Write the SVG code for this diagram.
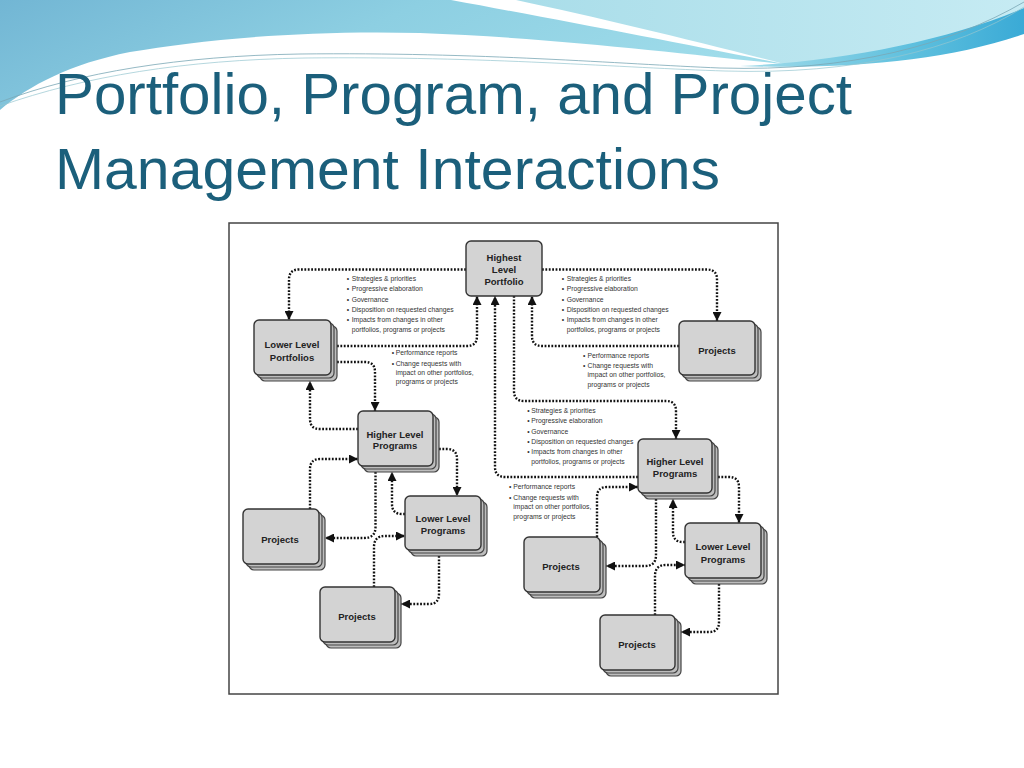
<svg xmlns="http://www.w3.org/2000/svg" width="1024" height="768" viewBox="0 0 1024 768">
<defs>
<linearGradient id="gBlue" x1="0" y1="0" x2="1" y2="0.3">
<stop offset="0" stop-color="#72b6d4"/>
<stop offset="0.5" stop-color="#8dcfe2"/>
<stop offset="1" stop-color="#9fdcea"/>
</linearGradient>
<linearGradient id="gPale" x1="0" y1="0" x2="1" y2="0">
<stop offset="0" stop-color="#a9dde9"/>
<stop offset="1" stop-color="#c6ebf3"/>
</linearGradient>
<linearGradient id="gSwoosh" x1="0" y1="0" x2="1" y2="0">
<stop offset="0" stop-color="#a3dcea"/>
<stop offset="0.6" stop-color="#5fc0de"/>
<stop offset="1" stop-color="#3aaad6"/>
</linearGradient>
<marker id="ah" viewBox="0 0 10 10" refX="10" refY="5" markerWidth="9" markerHeight="9" markerUnits="userSpaceOnUse" orient="auto">
<path d="M0,0 L10,5 L0,10 z" fill="#111"/>
</marker>
<style>
.title{font-family:"Liberation Sans",Arial,sans-serif;font-size:58px;fill:#1b5f7b}
.box{fill:#d3d3d3;stroke:#333;stroke-width:1.4}
.back{fill:#bdbdbd;stroke:#444;stroke-width:1.2}
.lbl{font-family:"Liberation Sans",Arial,sans-serif;font-size:9.5px;font-weight:bold;fill:#222;text-anchor:middle}
.note{font-family:"Liberation Sans",Arial,sans-serif;font-size:7.8px;fill:#333}
.con{fill:none;stroke:#111;stroke-width:2.4;stroke-dasharray:1.8 1.6}
.arr{marker-end:url(#ah)}
</style>
</defs>
<rect width="1024" height="768" fill="#ffffff"/>
<g id="background-wave">
<path d="M0,0 H451 C560,20 690,45 784,64 C700,56 560,38 420,33 C300,30 200,40 130,52 C70,64 30,85 0,110 Z" fill="url(#gBlue)"/>
<path d="M516,0 H1024 V10 C950,40 860,58 784,64 C700,42 600,18 516,0 Z" fill="url(#gPale)"/>
<path d="M740,66 C840,62 950,40 1024,8 V34 C950,60 850,70 740,66 Z" fill="url(#gSwoosh)"/>
<path d="M0,102 C80,72 180,56 300,54 C480,52 620,64 720,68 C850,72 950,45 1024,2" fill="none" stroke="#7aa7b5" stroke-width="0.8"/>
<path d="M0,106 C85,76 185,60 305,58 C485,56 625,68 725,71 C855,75 955,50 1024,7" fill="none" stroke="#95c6d0" stroke-width="0.7"/>
</g>
<g id="title">
<text class="title" x="55" y="114" textLength="797" lengthAdjust="spacingAndGlyphs">Portfolio, Program, and Project</text>
<text class="title" x="55" y="189" textLength="665" lengthAdjust="spacingAndGlyphs">Management Interactions</text>
</g>
<rect id="frame" x="229" y="223" width="549" height="471" fill="#ffffff" stroke="#444" stroke-width="1.5"/>
<g id="connectors">
<path class="con arr" d="M466,269.5 H299 Q289,269.5 289,279.5 V320"/>
<path class="con arr" d="M542,269.5 H707 Q717,269.5 717,279.5 V321"/>
<path class="con arr" d="M337,346 H467 Q477,346 477,336 V296"/>
<path class="con arr" d="M679,346 H542 Q532,346 532,336 V296"/>
<path class="con arr" d="M514,296 V391 Q514,401 524,401 H666 Q676,401 676,411 V439"/>
<path class="con arr" d="M638,477 H505 Q495,477 495,467 V296"/>
<path class="con arr" d="M337,362 H365 Q375,362 375,372 V411"/>
<path class="con arr" d="M358,429 H320 Q310,429 310,419 V381"/>
<path class="con arr" d="M310,509 V469 Q310,459 320,459 H358"/>
<path class="con arr" d="M375.5,472 V527 Q375.5,538 364,538 H325"/>
<path class="con arr" d="M439,449 H447 Q457,449 457,459 V496"/>
<path class="con arr" d="M405,514 H402 Q392,514 392,504 V472"/>
<path class="con arr" d="M374,587 V547 Q374,536 385,536 H405"/>
<path class="con arr" d="M439,556 V594 Q439,604 429,604 H401"/>
<path class="con arr" d="M718,477 H729 Q739,477 739,487 V523"/>
<path class="con arr" d="M685,542 H683 Q673,542 673,532 V499"/>
<path class="con arr" d="M597,537 V497 Q597,487 607,487 H638"/>
<path class="con arr" d="M656,499 V555 Q656,566 645,566 H606"/>
<path class="con arr" d="M655,615 V576 Q655,565 666,565 H685"/>
<path class="con arr" d="M719,584 V622 Q719,632 709,632 H681"/>
</g>
<g id="node-highest-portfolio">
<rect class="box" x="466" y="241" width="76" height="55" rx="5"/>
<text class="lbl" x="504" y="261">Highest</text>
<text class="lbl" x="504" y="272.5">Level</text>
<text class="lbl" x="504" y="284.5">Portfolio</text>
</g>
<g id="node-lower-portfolios">
<rect class="back" x="260" y="326" width="77" height="55" rx="5"/>
<rect class="back" x="257" y="323" width="77" height="55" rx="5"/>
<rect class="box" x="254" y="320" width="77" height="55" rx="5"/>
<text class="lbl" x="292" y="348">Lower Level</text>
<text class="lbl" x="292" y="360.5">Portfolios</text>
</g>
<g id="node-projects-top-right">
<rect class="back" x="685" y="327" width="76" height="54" rx="5"/>
<rect class="back" x="682" y="324" width="76" height="54" rx="5"/>
<rect class="box" x="679" y="321" width="76" height="54" rx="5"/>
<text class="lbl" x="717" y="353.5">Projects</text>
</g>
<g id="node-higher-programs-left">
<rect class="back" x="364" y="417" width="75" height="55" rx="5"/>
<rect class="back" x="361" y="414" width="75" height="55" rx="5"/>
<rect class="box" x="358" y="411" width="75" height="55" rx="5"/>
<text class="lbl" x="395" y="437.5">Higher Level</text>
<text class="lbl" x="395" y="449">Programs</text>
</g>
<g id="node-projects-left">
<rect class="back" x="249" y="515" width="76" height="55" rx="5"/>
<rect class="back" x="246" y="512" width="76" height="55" rx="5"/>
<rect class="box" x="243" y="509" width="76" height="55" rx="5"/>
<text class="lbl" x="280" y="542.5">Projects</text>
</g>
<g id="node-lower-programs-left">
<rect class="back" x="411" y="502" width="76" height="54" rx="5"/>
<rect class="back" x="408" y="499" width="76" height="54" rx="5"/>
<rect class="box" x="405" y="496" width="76" height="54" rx="5"/>
<text class="lbl" x="443" y="521.5">Lower Level</text>
<text class="lbl" x="443" y="534">Programs</text>
</g>
<g id="node-projects-bottom-left">
<rect class="back" x="326" y="593" width="75" height="55" rx="5"/>
<rect class="back" x="323" y="590" width="75" height="55" rx="5"/>
<rect class="box" x="320" y="587" width="75" height="55" rx="5"/>
<text class="lbl" x="357" y="619.5">Projects</text>
</g>
<g id="node-higher-programs-right">
<rect class="back" x="644" y="445" width="74" height="54" rx="5"/>
<rect class="back" x="641" y="442" width="74" height="54" rx="5"/>
<rect class="box" x="638" y="439" width="74" height="54" rx="5"/>
<text class="lbl" x="675" y="464.5">Higher Level</text>
<text class="lbl" x="675" y="477">Programs</text>
</g>
<g id="node-projects-right-mid">
<rect class="back" x="530" y="543" width="76" height="55" rx="5"/>
<rect class="back" x="527" y="540" width="76" height="55" rx="5"/>
<rect class="box" x="524" y="537" width="76" height="55" rx="5"/>
<text class="lbl" x="561" y="569.5">Projects</text>
</g>
<g id="node-lower-programs-right">
<rect class="back" x="691" y="529" width="76" height="55" rx="5"/>
<rect class="back" x="688" y="526" width="76" height="55" rx="5"/>
<rect class="box" x="685" y="523" width="76" height="55" rx="5"/>
<text class="lbl" x="723" y="550">Lower Level</text>
<text class="lbl" x="723" y="562.5">Programs</text>
</g>
<g id="node-projects-bottom-right">
<rect class="back" x="606" y="621" width="75" height="55" rx="5"/>
<rect class="back" x="603" y="618" width="75" height="55" rx="5"/>
<rect class="box" x="600" y="615" width="75" height="55" rx="5"/>
<text class="lbl" x="637" y="647.5">Projects</text>
</g>
<g id="notes">
<g class="note" transform="translate(346.7,0) scale(0.87,1)">
<text x="0" y="281">•</text><text x="5.7" y="281">Strategies &amp; priorities</text>
<text x="0" y="291.3">•</text><text x="5.7" y="291.3">Progressive elaboration</text>
<text x="0" y="301.6">•</text><text x="5.7" y="301.6">Governance</text>
<text x="0" y="311.9">•</text><text x="5.7" y="311.9">Disposition on requested changes</text>
<text x="0" y="322">•</text><text x="5.7" y="322">Impacts from changes in other</text>
<text x="5.7" y="332.3">portfolios, programs or projects</text>
</g>
<g class="note" transform="translate(561.7,0) scale(0.87,1)">
<text x="0" y="281">•</text><text x="5.7" y="281">Strategies &amp; priorities</text>
<text x="0" y="291.3">•</text><text x="5.7" y="291.3">Progressive elaboration</text>
<text x="0" y="301.6">•</text><text x="5.7" y="301.6">Governance</text>
<text x="0" y="311.9">•</text><text x="5.7" y="311.9">Disposition on requested changes</text>
<text x="0" y="322">•</text><text x="5.7" y="322">Impacts from changes in other</text>
<text x="5.7" y="332.3">portfolios, programs or projects</text>
</g>
<g class="note" transform="translate(391.7,0) scale(0.87,1)">
<text x="0" y="355.2">•</text><text x="4.6" y="355.2">Performance reports</text>
<text x="0" y="365.8">•</text><text x="4.6" y="365.8">Change requests with</text>
<text x="4.6" y="375.2">impact on other portfolios,</text>
<text x="4.6" y="384.5">programs or projects</text>
</g>
<g class="note" transform="translate(583,0) scale(0.87,1)">
<text x="0" y="357.7">•</text><text x="5.2" y="357.7">Performance reports</text>
<text x="0" y="368">•</text><text x="5.2" y="368">Change requests with</text>
<text x="5.2" y="377.3">impact on other portfolios,</text>
<text x="5.2" y="386.6">programs or projects</text>
</g>
<g class="note" transform="translate(527.3,0) scale(0.87,1)">
<text x="0" y="413.2">•</text><text x="4.6" y="413.2">Strategies &amp; priorities</text>
<text x="0" y="423.5">•</text><text x="4.6" y="423.5">Progressive elaboration</text>
<text x="0" y="433.8">•</text><text x="4.6" y="433.8">Governance</text>
<text x="0" y="444.2">•</text><text x="4.6" y="444.2">Disposition on requested changes</text>
<text x="0" y="454.5">•</text><text x="4.6" y="454.5">Impacts from changes in other</text>
<text x="4.6" y="463.8">portfolios, programs or projects</text>
</g>
<g class="note" transform="translate(509,0) scale(0.87,1)">
<text x="0" y="489.5">•</text><text x="5" y="489.5">Performance reports</text>
<text x="0" y="499.8">•</text><text x="5" y="499.8">Change requests with</text>
<text x="5" y="509.5">impact on other portfolios,</text>
<text x="5" y="518.8">programs or projects</text>
</g>
</g>
</svg>
